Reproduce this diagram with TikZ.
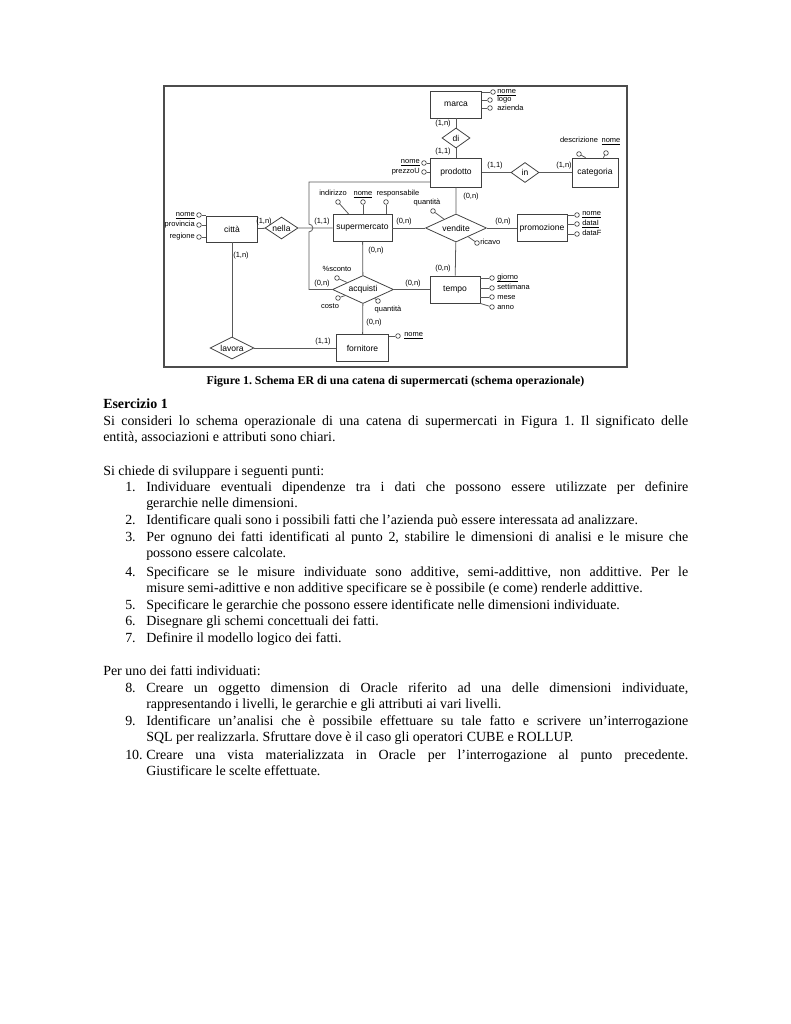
\documentclass[tikz,border=0pt]{standalone}
\usepackage{fontspec}
\setmainfont{Liberation Serif}
\newfontfamily\erfont{Liberation Sans}
\usetikzlibrary{shapes.geometric}
\hyphenpenalty=10000
\exhyphenpenalty=10000
\frenchspacing

% tight underline for key attributes
\newcommand\keyattr[1]{\setbox0\hbox{#1}\rlap{\rule[-0.8pt]{\wd0}{0.35pt}}\box0}

\tikzset{
  entity/.style={draw=black!75, line width=0.6pt, minimum width=40pt, minimum height=21pt, inner sep=0pt, font=\erfont\fontsize{6.6}{7}\selectfont},
  relation/.style={diamond, draw=black!75, line width=0.6pt, inner sep=0pt, font=\erfont\fontsize{6.6}{7}\selectfont},
  attr/.style={circle, draw=black!75, line width=0.5pt, inner sep=0pt, minimum size=3.6pt},
  attrlabel/.style={inner sep=0pt, text height=4.2pt, text depth=1.2pt, font=\erfont\fontsize{5.8}{6}\selectfont},
  card/.style={inner sep=0pt, font=\erfont\fontsize{5.8}{6}\selectfont},
  link/.style={draw=black!65, line width=0.6pt},
  body/.style={inner sep=0pt, anchor=base west, font=\fontsize{10.8}{13}\selectfont},
  item/.style={body, text width=419.3pt, align=justify},
}

\begin{document}
\begin{tikzpicture}[x=0.7737pt, y=-0.7737pt]
  \fill[white] (0,0) rectangle (791,1024);
  \useasboundingbox (0,0) rectangle (791,1024);

  % Frame of the figure
  \draw[black!70, line width=0.9pt] (164,86) rectangle (627,367);

  % Entities
  \node[entity] (marca) at (456,104.5) {marca};
  \node[entity, minimum height=22.4pt] (prodotto) at (456,172.5) {prodotto};
  \node[entity, minimum width=35.6pt, minimum height=22.4pt] (categoria) at (595,172.5) {categoria};
  \node[entity, minimum height=20pt] (citta) at (232,229) {città};
  \node[entity, minimum width=45.6pt] (supermercato) at (362.5,228) {supermercato};
  \node[entity, minimum width=38.7pt] (promozione) at (542,228) {promozione};
  \node[entity, minimum width=38.7pt] (tempo) at (455,289.5) {tempo};
  \node[entity] (fornitore) at (362.5,348) {fornitore};

  % Relationships
  \node[relation, aspect=1.4, minimum width=21.7pt, minimum height=15.5pt] (di) at (456,138) {di};
  \node[relation, aspect=1.4, minimum width=21.7pt, minimum height=15.5pt] (in) at (525,172.5) {in};
  \node[relation, aspect=1.5, minimum width=25.5pt, minimum height=17pt] (nella) at (281.5,228) {nella};
  \node[relation, aspect=2.18, minimum width=47.2pt, minimum height=21.7pt] (vendite) at (456,228) {vendite};
  \node[relation, aspect=2.18, minimum width=47.2pt, minimum height=21.7pt] (acquisti) at (363,289.5) {acquisti};
  \node[relation, aspect=2, minimum width=34pt, minimum height=17pt] (lavora) at (232,348) {lavora};

  % Connections
  \draw[link] (marca) -- (di) -- (prodotto);
  \draw[link] (prodotto) -- (in) -- (categoria);
  \draw[link] (citta) -- (nella) -- (supermercato);
  \draw[link] (supermercato) -- (vendite) -- (promozione);
  \draw[link] (prodotto) -- (vendite) -- (tempo);
  \draw[link] (supermercato) -- (acquisti) -- (fornitore);
  \draw[link] (acquisti) -- (tempo);
  \draw[link] (citta) -- (lavora) -- (fornitore);

  % prodotto -- acquisti, jumping over nella -- supermercato
  \coordinate (bend1) at (309,182);
  \coordinate (bend2) at (309,289.5);
  \draw[link] (prodotto.west |- bend1) -- (bend1) -- ([yshift=3pt]bend1 |- nella)
    arc[start angle=90, end angle=-90, radius=3pt] -- (bend2) -- (acquisti.west);

  % Cardinalities
  \node[card] (k1) at (443,124) {(1,n)};
  \node[card] (k2) at (443,152) {(1,1)};
  \node[card] (k3) at (495,166) {(1,1)};
  \node[card] (k4) at (564,166) {(1,n)};
  \node[card] (k5) at (471,197) {(0,n)};
  \node[card] (k6) at (264,222) {(1,n)};
  \node[card] (k7) at (322,222) {(1,1)};
  \node[card] (k8) at (404,222) {(0,n)};
  \node[card] (k9) at (503,222) {(0,n)};
  \node[card] (k10) at (376,251) {(0,n)};
  \node[card] (k11) at (241,256) {(1,n)};
  \node[card] (k12) at (443,269) {(0,n)};
  \node[card] (k13) at (322,284) {(0,n)};
  \node[card] (k14) at (413,284) {(0,n)};
  \node[card] (k15) at (374,323) {(0,n)};
  \node[card] (k16) at (323,342) {(1,1)};

  % Attributes of marca
  \node[attr] (mNome) at (493,92) {};
  \node[attr] (mLogo) at (490,100) {};
  \node[attr] (mAzienda) at (490,108) {};
  \node[attrlabel, anchor=west] (mNomeL) at (497,92) {\keyattr{nome}};
  \node[attrlabel, anchor=west] (mLogoL) at (497,100) {logo};
  \node[attrlabel, anchor=west] (mAziendaL) at (497,109) {azienda};
  \draw[link] (mNome) -- (mNome -| marca.east);
  \draw[link] (mLogo) -- (mLogo -| marca.east);
  \draw[link] (mAzienda) -- (mAzienda -| marca.east);

  % Attributes of prodotto
  \node[attr] (pNome) at (424,163) {};
  \node[attr] (pPrezzo) at (424,172) {};
  \node[attrlabel, anchor=east] (pNomeL) at (420,162) {\keyattr{nome}};
  \node[attrlabel, anchor=east] (pPrezzoL) at (420,172) {prezzoU};
  \draw[link] (pNome) -- (pNome -| prodotto.west);
  \draw[link] (pPrezzo) -- (pPrezzo -| prodotto.west);

  % Attributes of categoria
  \node[attr] (cDescr) at (579,154) {};
  \node[attr] (cNome) at (606,153) {};
  \node[attrlabel] (cDescrL) at (579,141) {descrizione};
  \node[attrlabel] (cNomeL) at (611,141) {\keyattr{nome}};
  \draw[link] (cDescr) -- ([xshift=10.8pt]categoria.north west);
  \draw[link] (cNome) -- ([xshift=-11.6pt]categoria.north east);

  % Attributes of supermercato
  \node[attr] (sInd) at (338,202) {};
  \node[attr] (sNome) at (363,202) {};
  \node[attr] (sResp) at (386,202) {};
  \node[attrlabel] (sIndL) at (333,194) {indirizzo};
  \node[attrlabel] (sNomeL) at (363,194) {\keyattr{nome}};
  \node[attrlabel] (sRespL) at (398,194) {responsabile};
  \draw[link] (sInd) -- ([xshift=12.4pt]supermercato.north west);
  \draw[link] (sNome) -- (sNome |- supermercato.north);
  \draw[link] (sResp) -- (sResp |- supermercato.north);

  % Attributes of vendite
  \node[attr] (vQta) at (433,211) {};
  \node[attr] (vRicavo) at (477,243) {};
  \node[attrlabel] (vQtaL) at (427,203) {quantità};
  \node[attrlabel, anchor=west] (vRicavoL) at (480,243) {ricavo};
  \draw[link] (vQta) -- (vendite);
  \draw[link] (vRicavo) -- (vendite);

  % Attributes of promozione
  \node[attr] (prNome) at (577,215) {};
  \node[attr] (prDataI) at (577,224) {};
  \node[attr] (prDataF) at (577,234) {};
  \node[attrlabel, anchor=west] (prNomeL) at (582,214) {\keyattr{nome}};
  \node[attrlabel, anchor=west] (prDataIL) at (582,224) {\keyattr{dataI}};
  \node[attrlabel, anchor=west] (prDataFL) at (582,234) {dataF};
  \draw[link] (prNome) -- (prNome -| promozione.east);
  \draw[link] (prDataI) -- (prDataI -| promozione.east);
  \draw[link] (prDataF) -- (prDataF -| promozione.east);

  % Attributes of tempo
  \node[attr] (tGiorno) at (492,278) {};
  \node[attr] (tSett) at (492,288) {};
  \node[attr] (tMese) at (492,297) {};
  \node[attr] (tAnno) at (492,307) {};
  \node[attrlabel, anchor=west] (tGiornoL) at (497,278) {\keyattr{giorno}};
  \node[attrlabel, anchor=west] (tSettL) at (497,288) {settimana};
  \node[attrlabel, anchor=west] (tMeseL) at (497,298) {mese};
  \node[attrlabel, anchor=west] (tAnnoL) at (497,308) {anno};
  \draw[link] (tGiorno) -- (tGiorno -| tempo.east);
  \draw[link] (tSett) -- (tSett -| tempo.east);
  \draw[link] (tMese) -- (tMese -| tempo.east);
  \draw[link] (tAnno) -- (tempo.south east);

  % Attributes of acquisti
  \node[attr] (aSconto) at (337,278) {};
  \node[attr] (aCosto) at (338,298) {};
  \node[attr] (aQta) at (378,301) {};
  \node[attrlabel] (aScontoL) at (337,270) {\%sconto};
  \node[attrlabel] (aCostoL) at (330,307) {costo};
  \node[attrlabel] (aQtaL) at (388,310) {quantità};
  \draw[link] (aSconto) -- (acquisti);
  \draw[link] (aCosto) -- (acquisti);
  \draw[link] (aQta) -- (acquisti);

  % Attributes of citta
  \node[attr] (ciNome) at (199,215) {};
  \node[attr] (ciProv) at (199,225) {};
  \node[attr] (ciReg) at (199,237) {};
  \node[attrlabel, anchor=east] (ciNomeL) at (195,215) {\keyattr{nome}};
  \node[attrlabel, anchor=east] (ciProvL) at (195,225) {provincia};
  \node[attrlabel, anchor=east] (ciRegL) at (195,237) {regione};
  \draw[link] (ciNome) -- (ciNome -| citta.west);
  \draw[link] (ciProv) -- (ciProv -| citta.west);
  \draw[link] (ciReg) -- (ciReg -| citta.west);

  % Attributes of fornitore
  \node[attr] (fNome) at (398,336) {};
  \node[attrlabel, anchor=west] (fNomeL) at (404,335) {\keyattr{nome}};
  \draw[link] (fNome) -- (fNome -| fornitore.east);

  % Caption
  \node[inner sep=0pt, anchor=base, font=\bfseries\fontsize{9.2}{11}\selectfont] (caption) at (395.5,384)
    {Figure 1. Schema ER di una catena di supermercati (schema operazionale)};

  % Text of the exercise
  \node[body, font=\bfseries\fontsize{10.8}{13}\selectfont] (title) at (103,408) {Esercizio 1};
  \node[body, text width=452.6pt, align=justify] (intro) at (103,425)
    {Si consideri lo schema operazionale di una catena di supermercati in Figura 1. Il significato delle\linebreak
     entità, associazioni e attributi sono chiari.};
  \node[body] (ask) at (103,475) {Si chiede di sviluppare i seguenti punti:};

  \node[body] (n1) at (125,491) {1.};
  \node[item] (t1) at (146,491)
    {Individuare eventuali dipendenze tra i dati che possono essere utilizzate per definire\linebreak
     gerarchie nelle dimensioni.};
  \node[body] (n2) at (125,524) {2.};
  \node[item] (t2) at (146,524)
    {Identificare quali sono i possibili fatti che l'azienda può essere interessata ad analizzare.};
  \node[body] (n3) at (125,541) {3.};
  \node[item] (t3) at (146,541)
    {Per ognuno dei fatti identificati al punto 2, stabilire le dimensioni di analisi e le misure che\linebreak
     possono essere calcolate.};
  \node[body] (n4) at (125,576) {4.};
  \node[item] (t4) at (146,576)
    {Specificare se le misure individuate sono additive, semi-addittive, non addittive. Per le\linebreak
     misure semi-adittive e non additive specificare se è possibile (e come) renderle addittive.};
  \node[body] (n5) at (125,609) {5.};
  \node[item] (t5) at (146,609)
    {Specificare le gerarchie che possono essere identificate nelle dimensioni individuate.};
  \node[body] (n6) at (125,625) {6.};
  \node[item] (t6) at (146,625) {Disegnare gli schemi concettuali dei fatti.};
  \node[body] (n7) at (125,642) {7.};
  \node[item] (t7) at (146,642) {Definire il modello logico dei fatti.};

  \node[body] (per) at (103,675) {Per uno dei fatti individuati:};
  \node[body] (n8) at (125,692) {8.};
  \node[item] (t8) at (146,692)
    {Creare un oggetto dimension di Oracle riferito ad una delle dimensioni individuate,\linebreak
     rappresentando i livelli, le gerarchie e gli attributi ai vari livelli.};
  \node[body] (n9) at (125,725) {9.};
  \node[item] (t9) at (146,725)
    {Identificare un'analisi che è possibile effettuare su tale fatto e scrivere un'interrogazione\linebreak
     SQL per realizzarla. Sfruttare dove è il caso gli operatori CUBE e ROLLUP.};
  \node[body] (n10) at (125,759) {10.};
  \node[item] (t10) at (146,759)
    {Creare una vista materializzata in Oracle per l'interrogazione al punto precedente.\linebreak
     Giustificare le scelte effettuate.};
\end{tikzpicture}
\end{document}
